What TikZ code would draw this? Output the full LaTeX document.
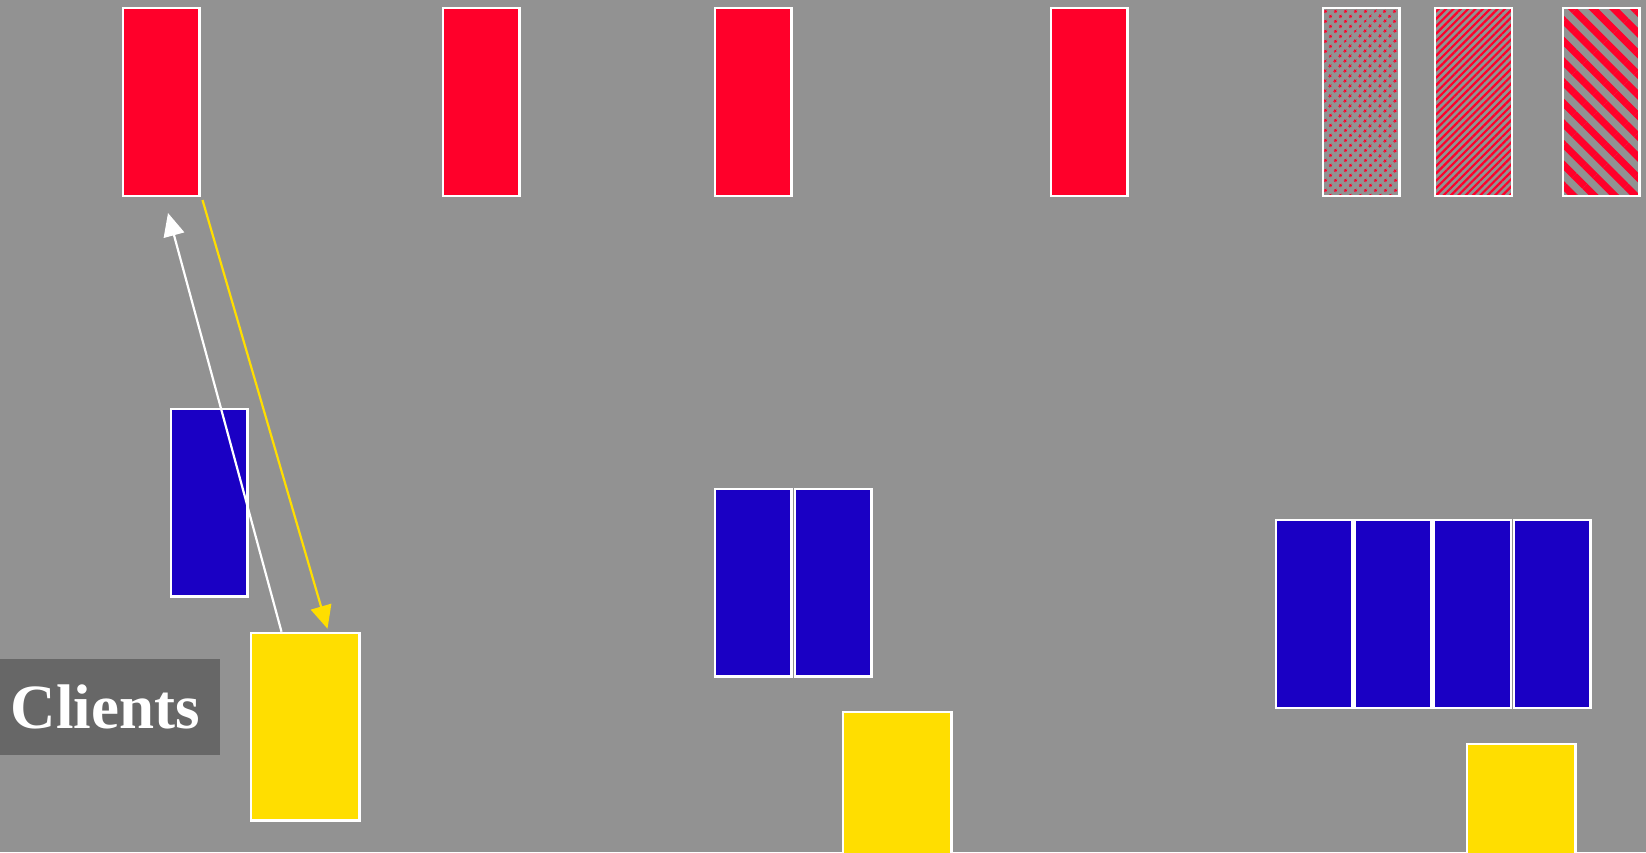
\documentclass[tikz,border=0pt]{standalone}
\usepackage{fontspec}
\setmainfont{Liberation Serif}
\usepackage{xcolor}
\usetikzlibrary{arrows.meta,patterns.meta}

\definecolor{bggray}{RGB}{146,146,146}
\definecolor{srvred}{RGB}{255,0,42}
\definecolor{wrkblue}{RGB}{26,0,196}
\definecolor{cliyellow}{RGB}{255,222,0}
\definecolor{tagray}{RGB}{103,103,103}

\begin{document}
\begin{tikzpicture}[x=1pt,y=-1pt,
	box/.style={draw=white,line width=2.4pt,minimum width=76.6pt,minimum height=187.6pt,inner sep=0pt},
	server/.style={box,fill=srvred},
	worker/.style={box,fill=wrkblue},
	client/.style={box,fill=cliyellow,minimum width=108.6pt},
	wire/.style={line width=2.2pt,-{Triangle[length=23pt,width=21pt]}}]

		\fill[bggray] (0,0) rectangle (1646,852);
		\useasboundingbox (0,0) rectangle (1646,852);

		\node[server] (srv1) at (161,102) {}; \node[server] (srv2) at (481,102) {}; \node[server] (srv3) at (753,102) {}; \node[server] (srv4) at (1089,102) {};

		\node[box,pattern={Dots[angle=45,distance=7.4pt,radius=1.7pt]},pattern color=srvred] (pat1) at (1361,102) {};
		\node[box,pattern={Lines[angle=45,distance=5.2pt,line width=2.2pt]},pattern color=srvred] (pat2) at (1473.5,102) {};
		\node[box,pattern={Lines[angle=-45,distance=14.6pt,line width=7pt]},pattern color=srvred] (pat3) at (1601,102) {};

		\node[worker] (wrk1) at (209,502.5) {};

		\node[worker] (wrk2) at (753,582.5) {}; \node[worker] (wrk3) at (833,582.5) {};

		\node[worker] (wrk4) at (1314,614) {}; \node[worker] (wrk5) at (1393.3,614) {}; \node[worker] (wrk6) at (1472.5,614) {}; \node[worker] (wrk7) at (1552.3,614) {};

		\node[client] (cli1) at (305,726.7) {}; \node[client] (cli2) at (897,806) {}; \node[client] (cli3) at (1521,838) {};

		\node[fill=tagray,text=white,font=\bfseries\fontsize{63}{63}\selectfont,minimum width=220pt,minimum height=96pt,inner sep=0pt,anchor=west] (clients) at (0,707) {Clients\kern10pt};

		\draw[wire,white] ([xshift=32pt]cli1.north west) -- ([xshift=7pt,yshift=-16pt]srv1.south);
		\draw[wire,cliyellow] ([xshift=2pt,yshift=-3pt]srv1.south east) -- ([xshift=78pt,yshift=3pt]cli1.north west);
	\end{tikzpicture}
\end{document}
